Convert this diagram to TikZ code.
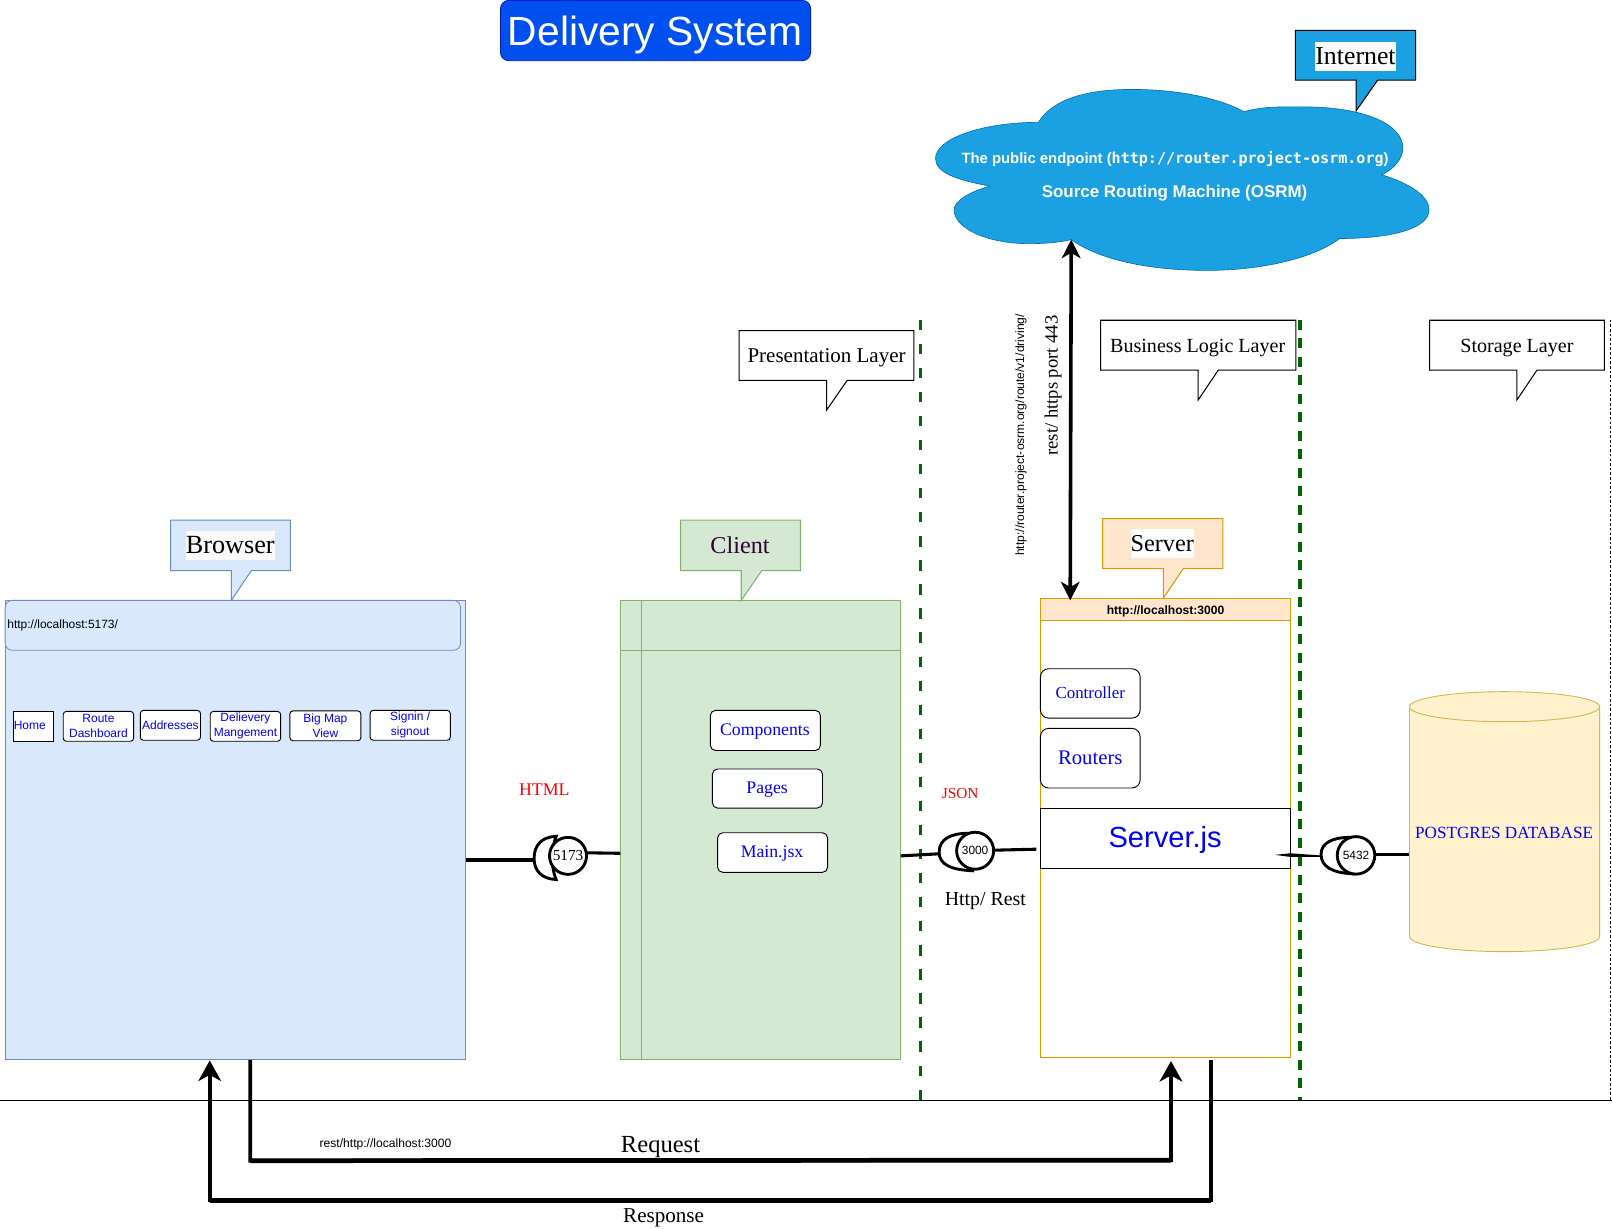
\documentclass[tikz,border=0pt]{standalone}
\usepackage{fontspec}
\setmainfont{Liberation Serif}
\setsansfont{Liberation Sans}
\setmonofont{DejaVu Sans Mono}
\usetikzlibrary{arrows.meta}
\definecolor{ttlfill}{HTML}{0050EF}\definecolor{ttlline}{HTML}{001DBC}
\definecolor{cldfill}{HTML}{1BA1E2}\definecolor{cldline}{HTML}{006EAF}
\definecolor{bluefill}{HTML}{DAE8FC}\definecolor{blueline}{HTML}{6C8EBF}
\definecolor{greenfill}{HTML}{D5E8D4}\definecolor{greenline}{HTML}{82B366}
\definecolor{orgfill}{HTML}{FFE6CC}\definecolor{orgline}{HTML}{D79B00}
\definecolor{yelfill}{HTML}{FFF2CC}\definecolor{yelline}{HTML}{D6B656}
\definecolor{sepgreen}{HTML}{006600}\definecolor{hilite}{HTML}{FAFAFA}
\definecolor{linkblue}{HTML}{0000FF}\definecolor{plum}{HTML}{330033}
\newcommand{\fz}[1]{\fontsize{#1}{#1}\selectfont}
% style, name, x1, y1, x2, y2, text
\newcommand{\rn}[7][]{%
  \pgfmathsetmacro{\cxx}{(#3+#5)/2}\pgfmathsetmacro{\cyy}{(#4+#6)/2}%
  \pgfmathsetmacro{\ww}{#5-#3}\pgfmathsetmacro{\hh}{#6-#4}%
  \node[#1,inner sep=0pt,outer sep=0pt,minimum width=\ww bp,minimum height=\hh bp] (#2) at (\cxx,\cyy) {#7};}
% style, x1, y1, x2, y2, tail x1, tail x2, tip y
\newcommand{\callout}[8]{%
  \draw[#1] (#2,#3) -- (#4,#3) -- (#4,#5) -- (#7,#5) -- (#6,#8) -- (#6,#5) -- (#2,#5) -- cycle;}
\tikzset{
  x=1bp,y=-1bp,
  bluecall/.style={draw=blueline,fill=bluefill,line width=1pt},
  greencall/.style={draw=greenline,fill=greenfill,line width=1pt},
  orgcall/.style={draw=orgline,fill=orgfill,line width=1pt},
  plaincall/.style={draw=black,fill=white,line width=1pt},
  cloudcall/.style={draw=black,fill=cldfill,line width=1pt},
  tag/.style={font=\fz{25.2},fill=hilite,inner sep=0pt,minimum height=28bp},
  navbtn/.style={draw=black,fill=white,rounded corners=3bp,line width=.9pt,font=\sffamily\fz{11.7},text=linkblue,align=center},
  clbtn/.style={draw=black,fill=white,rounded corners=5bp,line width=.9pt},
  srvbtn/.style={draw=black,fill=white,rounded corners=8bp,line width=.9pt},
  btntxt/.style={text=linkblue,inner sep=0pt},
  wire/.style={line width=3pt,draw=black},
  port/.style={circle,draw=black,line width=2.8pt,fill=white,inner sep=0pt,outer sep=0pt},
  moon/.style={draw=black,line width=2.8pt,fill=white},
  sepline/.style={draw=sepgreen},
  bigarrow/.style={draw=black,line width=3.7pt},
  head/.style={-{Stealth[length=20bp,width=22bp,inset=6bp]}},
}
\begin{document}
\begin{tikzpicture}
\useasboundingbox (0,0) rectangle (1568,1195.4);
\fill[white] (0,0) rectangle (1568,1195.4);

% title
\rn[draw=ttlline,fill=ttlfill,rounded corners=8bp,line width=.8pt]{title}{486.8}{0.4}{788.5}{59}{}
\node[text=white,font=\sffamily\fz{39.8}] (titletext) at (637.3,34) {Delivery System};

% cloud
\path[fill=cldfill,draw=cldline,line width=.6pt] (1010,119)
 .. controls (1025,95) and (1060,87) .. (1101,87)
 .. controls (1145,87) and (1185,95) .. (1210,108.6)
 .. controls (1230,103) and (1250,104) .. (1269,104)
 .. controls (1325,104) and (1364.5,120) .. (1364.5,144)
 .. controls (1364.5,155) and (1355,165) .. (1344,170)
 .. controls (1370,178) and (1390,190) .. (1390,204)
 .. controls (1390,222) and (1355,232) .. (1303,232)
 .. controls (1280,250) and (1230,263) .. (1174,263)
 .. controls (1110,263) and (1065,250) .. (1042,233)
 .. controls (1030,236) and (1015,237) .. (1001,237)
 .. controls (960,237) and (928,222) .. (928,204)
 .. controls (928,195) and (945,186) .. (963,181)
 .. controls (930,175) and (910,168) .. (910,154)
 .. controls (910,135) and (955,119) .. (1010,119) -- cycle;
\coordinate (cloudport) at (1042,233);
\node[text=white,font=\sffamily\bfseries\fz{14.5}] (osrmurl) at (1143,154.3) {The public endpoint ({\ttfamily\bfseries\fz{14.7}http://router.project-osrm.org})};
\node[text=white,font=\sffamily\bfseries\fz{16.55}] (osrmname) at (1142.5,188.3) {Source Routing Machine (OSRM)};

% callouts
\callout{cloudcall}{1260}{29.5}{1377}{78}{1319}{1340}{108}
\node[tag] (internet) at (1318.5,55) {Internet};
\callout{plaincall}{719}{321.5}{889}{370}{804}{824}{399}
\node[font=\fz{20.5}] (present) at (804,348) {Presentation Layer};
\callout{plaincall}{1070.5}{311.5}{1260.5}{360}{1165.5}{1185}{389}
\node[font=\fz{19.6}] (bizlogic) at (1165,338.3) {Business Logic Layer};
\callout{plaincall}{1390.5}{311.5}{1560.5}{360}{1475.5}{1495}{389}
\node[font=\fz{19.6}] (storage) at (1475.5,338.3) {Storage Layer};

% separators
\draw[sepline,line width=3.6pt,dash pattern=on 10bp off 13.4bp] (895.5,311) -- (895.5,1070);
\draw[sepline,line width=3pt,dash pattern=on 9.5bp off 8.5bp] (1264.5,311) -- (1264.5,1070);
\draw[black,line width=1pt,dash pattern=on 2.5bp off 2bp] (1566.5,311) -- (1566.5,1070);

% browser
\rn[draw=blueline,fill=bluefill,line width=1pt]{browser}{5}{584}{453}{1031}{}
\callout{bluecall}{166}{506}{282.5}{555}{225}{244.5}{584}
\node[tag,font=\fz{25.6}] (browsertag) at (224,530.5) {Browser};
\rn[draw=blueline,fill=bluefill,rounded corners=7bp,line width=.8pt]{urlbar}{5}{584}{448}{632.5}{}
\node[anchor=west,inner sep=0pt,font=\sffamily\fz{11.7}] (urltext) at (7,608.2) {http://localhost:5173/};
\rn[navbtn,rounded corners=0pt]{nhome}{13}{692}{52}{721}{}
\node[inner sep=0pt,font=\sffamily\fz{11.7},text=linkblue] (nhomet) at (29,705.5) {Home};
\rn[navbtn]{nroute}{61.5}{692}{130}{721}{Route\\[3pt]Dashboard}
\rn[navbtn]{naddr}{136.5}{691}{195}{720}{Addresses}
\rn[navbtn]{ndeliv}{204.5}{692}{273}{721}{Delievery\\[3pt]Mangement}
\rn[navbtn]{nmap}{282}{691.5}{351}{720.5}{Big Map\\[3pt]View}
\rn[navbtn]{nsign}{360}{691}{438}{720}{Signin /\\[3pt]signout}

% client
\rn[draw=greenline,fill=greenfill,line width=1pt]{client}{604}{584}{876}{1031}{}
\draw[greenline,line width=.8pt] (604,632.5) -- (876,632.5) (623.5,584) -- (623.5,1031);
\callout{greencall}{662}{506}{778.5}{555}{721}{741}{584}
\node[font=\fz{23.6},text=plum] (clienttag) at (719.8,530.5) {Client};
\rn[clbtn]{comp}{691}{691}{798}{730}{}
\node[btntxt,font=\fz{17.3}] (compt) at (744,711.5) {Components};
\rn[clbtn]{pages}{693}{748}{800}{786}{}
\node[btntxt,font=\fz{17.3}] (pagest) at (746.2,768) {Pages};
\rn[clbtn]{mainjsx}{698}{810}{805}{848.5}{}
\node[btntxt,font=\fz{17.3}] (mainjsxt) at (751,830.2) {Main.jsx};

% server
\rn[draw=orgline,fill=white,line width=1pt]{server}{1012}{582}{1255.5}{1029}{}
\rn[draw=orgline,fill=orgfill,line width=1pt]{srvhead}{1012}{582}{1255.5}{604}{}
\node[inner sep=0pt,font=\sffamily\bfseries\fz{11.8}] (srvheadt) at (1133.7,595) {http://localhost:3000};
\callout{orgcall}{1072.5}{504.5}{1189.5}{553}{1131.5}{1151}{582}
\node[tag,fill=white,font=\fz{23.7}] (servertag) at (1130.5,528.5) {Server};
\rn[srvbtn]{ctrl}{1012}{650.5}{1109}{698.5}{}
\node[btntxt,font=\fz{16.5}] (ctrlt) at (1060.5,673.6) {Controller};
\rn[srvbtn,text=linkblue,font=\fz{20.2}]{routers}{1012}{708.5}{1109}{766.5}{Routers}
\rn[draw=black,fill=white,line width=.9pt]{serverjs}{1012}{786}{1255.5}{844.5}{}
\node[btntxt,font=\sffamily\fz{28.4}] (serverjst) at (1133.3,816.8) {Server.js};

% database
\path[fill=yelfill,draw=yelline,line width=.9pt] (1371,911)
 .. controls (1371,919) and (1412,925.6) .. (1463.5,925.6)
 .. controls (1515,925.6) and (1556,919) .. (1556,911) -- (1556,687.4)
 .. controls (1556,679.4) and (1515,672.8) .. (1463.5,672.8)
 .. controls (1412,672.8) and (1371,679.4) .. (1371,687.4) -- cycle;
\draw[yelline,line width=.9pt] (1371,687.4) .. controls (1371,695.4) and (1412,702) .. (1463.5,702) .. controls (1515,702) and (1556,695.4) .. (1556,687.4);
\node[text=linkblue,font=\fz{16.7}] (pg) at (1463,810) {POSTGRES DATABASE};

% port 5173
\coordinate (p1a) at (453,836.5); \coordinate (p1b) at (518,836.5);
\coordinate (p1c) at (570,829.5); \coordinate (p1d) at (603.5,830);
\draw[wire] (p1a) -- (p1b);
\draw[wire] (p1c) -- (p1d);
\draw[moon] (541,813.5) .. controls (527,814) and (519.5,822) .. (519.5,835) .. controls (519.5,847) and (527,855) .. (541,855.5) .. controls (536,845) and (536,825) .. (541,813.5) -- cycle;
\node[port,minimum size=36bp,font=\fz{14.9}] (port1) at (552.5,832.5) {5173};

% port 3000
\coordinate (p2a) at (876,832.5); \coordinate (p2b) at (913,830.5);
\coordinate (p2c) at (966,827); \coordinate (p2d) at (1008,826);
\draw[wire] (p2a) -- (p2b);
\draw[wire] (p2c) -- (p2d);
\draw[moon] (942,810.5) .. controls (925,810.5) and (913.5,816) .. (913.5,829) .. controls (913.5,841) and (925,846) .. (946,847) -- cycle;
\node[port,minimum size=36bp,font=\sffamily\fz{11.6}] (port2) at (948.5,827.5) {3000};

% port 5432
\coordinate (p3a) at (1284,832); \coordinate (p3b) at (1240,831.5);
\coordinate (p3c) at (1338,831); \coordinate (p3d) at (1370.5,831);
\fill[black] (p3b) -- (1255,830) -- (p3a) -- (1284,833.5) -- (1255,833.5) -- cycle;
\draw[wire] (p3c) -- (p3d);
\draw[moon] (1313,814.5) .. controls (1296,814.5) and (1285,820) .. (1285,831) .. controls (1285,843) and (1296,849) .. (1316,850) -- cycle;
\node[port,minimum size=36.5bp,font=\sffamily\fz{11.6}] (port3) at (1319,832) {5432};

% osrm arrow
\coordinate (osrmdn) at (1041,584);
\draw[draw=black,line width=3.5pt,{Stealth[length=18bp,width=18bp,inset=5bp]}-{Stealth[length=18bp,width=18bp,inset=5bp]}] (cloudport) -- (osrmdn);
\node[rotate=90,font=\fz{18.2}] (httpsport) at (1024.3,375) {rest/ https port 443};
\node[rotate=90,font=\sffamily\fz{11.8}] (osrmroute) at (993,423) {http://router.project-osrm.org/route/v1/driving/};

% labels
\node[text=red,font=\fz{17.4}] (htmllbl) at (529.5,768) {HTML};
\node[text=red,font=\fz{15}] (jsonlbl) at (934,771.5) {JSON};
\node[font=\fz{19.4}] (restlbl) at (958.5,876) {Http/ Rest};

% baseline
\coordinate (base0) at (0,1070.5); \coordinate (base1) at (1568,1070.5);
\draw[black,line width=1pt] (base0) -- (base1);

% request / response
\coordinate (reqa) at (243.5,1031); \coordinate (reqb) at (243.5,1129); \coordinate (reqc) at (1139,1128.5); \coordinate (reqd) at (1139,1032);
\draw[bigarrow,head,line join=miter] (reqa) -- (reqb) -- (reqc) -- (reqd);
\draw[black,line width=4.6pt] (reqb) -- (reqc);
\coordinate (resa) at (1178,1031); \coordinate (resb) at (1178,1167.5); \coordinate (resc) at (204,1167.5); \coordinate (resd) at (204,1031.5);
\draw[bigarrow,head,line join=miter] (resa) -- (resb) -- (resc) -- (resd);
\draw[black,line width=4.6pt] (resb) -- (resc);
\node[font=\sffamily\fz{11.8}] (requrl) at (375,1113.5) {rest/http://localhost:3000};
\node[font=\fz{24}] (reqlbl) at (642.5,1116) {Request};
\node[font=\fz{20.6}] (reslbl) at (645.5,1184.5) {Response};
\end{tikzpicture}
\end{document}
